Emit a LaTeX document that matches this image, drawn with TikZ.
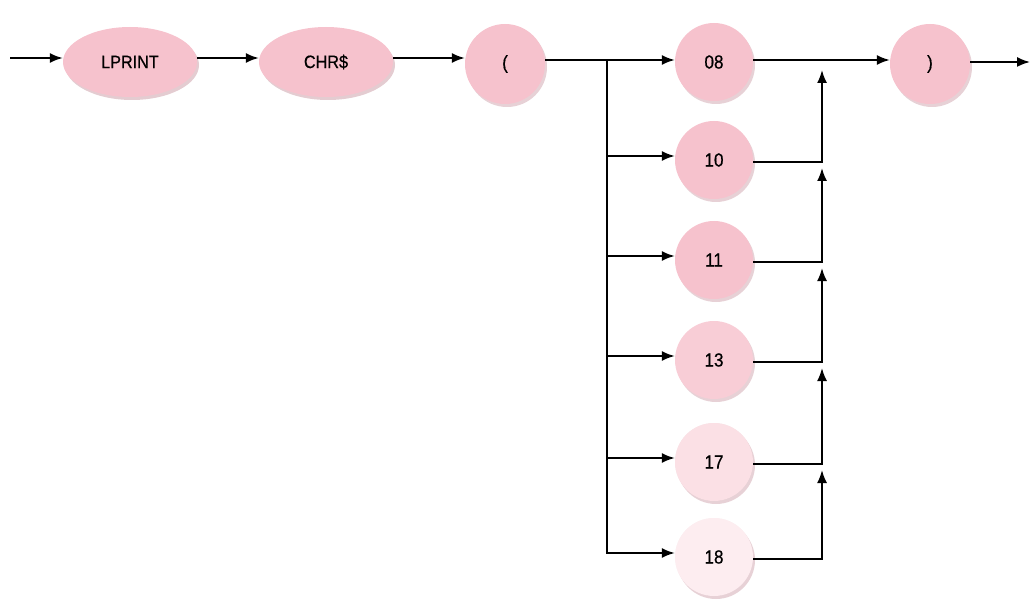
\documentclass[tikz,border=0pt]{standalone}
\usepackage{fontspec}
\setmainfont[FakeStretch=0.9,FakeBold=0.6]{Liberation Sans}
\usetikzlibrary{shapes.geometric,arrows.meta,calc}
\definecolor{pinkA}{HTML}{F6C2CD}
\definecolor{pinkB}{HTML}{F8CDD6}
\definecolor{pinkC}{HTML}{FBE0E5}
\definecolor{pinkD}{HTML}{FDEDF0}
\definecolor{shade}{HTML}{C99AA4}
\begin{document}
\begin{tikzpicture}[x=1pt,y=-1pt,
  arr/.style={line width=1.8pt,-{Latex[length=13pt,width=10pt]}},
  oval/.style={ellipse,fill=pinkA,inner sep=0pt,font=\fontsize{18}{20}\selectfont,
    minimum width=134pt,minimum height=70pt,
    preaction={fill=shade,opacity=0.5,transform canvas={xshift=2pt,yshift=-3pt}}},
  ball/.style={circle,fill=pinkA,inner sep=0pt,font=\fontsize{19}{21}\selectfont,
    minimum size=78pt,
    preaction={fill=shade,opacity=0.45,transform canvas={xshift=2pt,yshift=-3pt}}}]
\useasboundingbox (0,0) rectangle (1036,604);
\node[oval] (lp) at (130,62) {LPRINT};
\node[oval] (chr) at (326,62) {CHR\$};
\node[ball,minimum size=80pt] (lb) at (505,64) {(};
\node[ball] (n08) at (714,62) {08};
\node[ball,minimum size=80pt] (rb) at (930,64) {)};
\node[ball] (n10) at (714,160) {10};
\node[ball] (n11) at (714,260) {11};
\node[ball,fill=pinkB] (n13) at (714,360) {13};
\node[ball,fill=pinkC,preaction={fill=shade,opacity=0.2}] (n17) at (714,462) {17};
\node[ball,fill=pinkD,preaction={fill=shade,opacity=0.1}] (n18) at (714,557) {18};
\coordinate (start) at (10,58);
\coordinate (end) at (1030,62);
\coordinate (sL) at (607,60);
\coordinate (sR) at (822,60);
\draw[arr] (start) -- (start -| lp.west);
\draw[arr] ([yshift=4pt]lp.east) -- ([yshift=4pt]chr.west);
\draw[arr] ([yshift=4pt]chr.east) -- ([yshift=4pt]chr.east -| lb.west);
\draw[arr] ([yshift=4pt]lb.east) -- ([yshift=4pt]lb.east -| n08.west);
\draw[arr] ([yshift=2pt]n08.east) -- ([yshift=2pt]n08.east -| rb.west);
\draw[arr] ([yshift=2pt]rb.east) -- (end);
\foreach \n in {n10,n11,n13,n17,n18}{
  \draw[arr] (sL) |- ([yshift=4pt]\n.west);
}
\foreach \n/\p in {n10/n08,n11/n10,n13/n11,n17/n13,n18/n17}{
  \draw[arr] ([yshift=-2pt]\n.east) -| ($(sR |- \p.east)+(0,8)$);
}
\end{tikzpicture}
\end{document}
